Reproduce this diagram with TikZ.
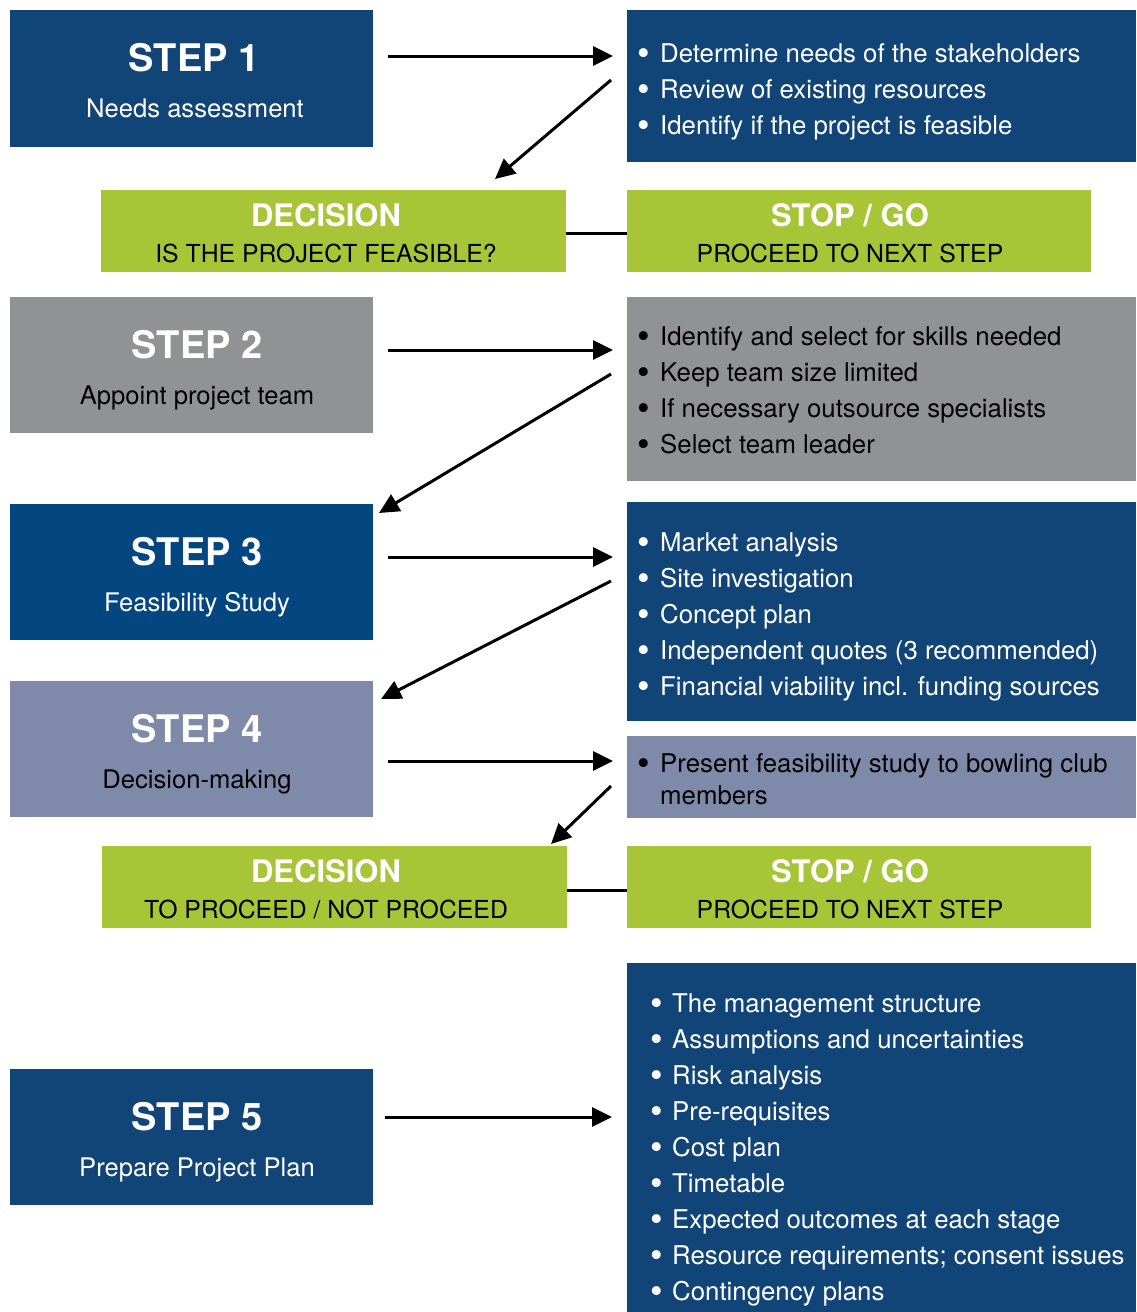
\documentclass[tikz,border=0pt]{standalone}
\usepackage{fontspec}
\setmainfont{TeX Gyre Heros}
\usetikzlibrary{arrows.meta}
\definecolor{navy}{HTML}{124577}
\definecolor{navyb}{HTML}{04467F}
\definecolor{grayb}{HTML}{919294}
\definecolor{lav}{HTML}{7F89A9}
\definecolor{lime}{HTML}{A8C437}
\newcommand{\bul}[1]{\llap{{\fontsize{36}{36}\selectfont\raisebox{-3.5pt}{\textbullet}}\hspace{#1pt}}}
\begin{document}
\begin{tikzpicture}[x=1pt,y=-1pt,
  box/.style={anchor=north west, inner sep=0pt, outer sep=0pt, draw=none},
  txt/.style={anchor=base, inner sep=0pt},
  steptitle/.style={txt, text=white, font=\fontsize{38}{40}\selectfont\bfseries},
  stepsub/.style={txt, font=\fontsize{25.6}{30}\selectfont},
  dectitle/.style={txt, text=white, font=\fontsize{31}{34}\selectfont\bfseries},
  decsub/.style={txt, text=black, font=\fontsize{24.8}{28}\selectfont},
  item/.style={anchor=base west, inner sep=0pt, font=\fontsize{25.8}{30}\selectfont},
  arr/.style={line width=3pt, -{Triangle[length=20pt,width=19pt]}},
  link/.style={line width=3pt}]
\useasboundingbox (0,0) rectangle (1136,1312);

% ---------- boxes ----------
\node[box, fill=navy,  minimum width=363, minimum height=137] (s1) at (10,10) {};
\node[box, fill=navy,  minimum width=509, minimum height=152] (r1) at (627,10) {};
\node[box, fill=lime,  minimum width=465, minimum height=82]  (d1) at (101,190) {};
\node[box, fill=lime,  minimum width=464, minimum height=82]  (g1) at (627,190) {};
\node[box, fill=grayb, minimum width=363, minimum height=136] (s2) at (10,297) {};
\node[box, fill=grayb, minimum width=509, minimum height=184] (r2) at (627,297) {};
\node[box, fill=navyb, minimum width=363, minimum height=136] (s3) at (10,504) {};
\node[box, fill=navy,  minimum width=509, minimum height=219] (r3) at (627,502) {};
\node[box, fill=lav,   minimum width=363, minimum height=136] (s4) at (10,681) {};
\node[box, fill=lav,   minimum width=509, minimum height=82]  (r4) at (627,736) {};
\node[box, fill=lime,  minimum width=465, minimum height=82]  (d2) at (102,846) {};
\node[box, fill=lime,  minimum width=464, minimum height=82]  (g2) at (627,846) {};
\node[box, fill=navy,  minimum width=363, minimum height=136] (s5) at (10,1069) {};
\node[box, fill=navy,  minimum width=509, minimum height=349] (r5) at (627,963) {};

% ---------- step texts ----------
\node[steptitle] (t1) at (194,71) {STEP 1};
\node[stepsub, text=white] (u1) at (195,117) {Needs assessment};
\node[steptitle] (t2) at (197,358) {STEP 2};
\node[stepsub, text=black] (u2) at (197,404) {Appoint project team};
\node[steptitle] (t3) at (197,565) {STEP 3};
\node[stepsub, text=white] (u3) at (197,611) {Feasibility Study};
\node[steptitle] (t4) at (197,742) {STEP 4};
\node[stepsub, text=black] (u4) at (197,788) {Decision-making};
\node[steptitle] (t5) at (197,1130) {STEP 5};
\node[stepsub, text=white] (u5) at (197,1176) {Prepare Project Plan};

% ---------- decisions ----------
\node[dectitle] (dt1) at (326,226) {DECISION};
\node[decsub] (du1) at (326,262) {IS THE PROJECT FEASIBLE?};
\node[dectitle] (gt1) at (850,226) {STOP / GO};
\node[decsub] (gu1) at (850,262) {PROCEED TO NEXT STEP};
\node[dectitle] (dt2) at (326,882) {DECISION};
\node[decsub] (du2) at (326,918) {TO PROCEED / NOT PROCEED};
\node[dectitle] (gt2) at (850,882) {STOP / GO};
\node[decsub] (gu2) at (850,918) {PROCEED TO NEXT STEP};

% ---------- lists ----------
\foreach \t [count=\i] in {Determine needs of the stakeholders,
  Review of existing resources, Identify if the project is feasible}
  \node[item, text=white] (a\i) at (660,{62+36*(\i-1)}) {\bul{10}\t};
\foreach \t [count=\i] in {Identify and select for skills needed,
  Keep team size limited, If necessary outsource specialists, Select team leader}
  \node[item, text=black] (b\i) at (660,{345+36*(\i-1)}) {\bul{10}\t};
\foreach \t [count=\i] in {Market analysis, Site investigation, Concept plan,
  Independent quotes (3 recommended), Financial viability incl. funding sources}
  \node[item, text=white] (c\i) at (660,{551+36*(\i-1)}) {\bul{10}\t};
\node[item, text=black] (e1) at (660,772) {\bul{10}Present feasibility study to bowling club};
\node[item, text=black] (e2) at (660,804) {members};
\foreach \t [count=\i] in {The management structure, Assumptions and uncertainties,
  Risk analysis, Pre-requisites, Cost plan, Timetable,
  Expected outcomes at each stage, Resource requirements; consent issues,
  Contingency plans}
  \node[item, text=white] (f\i) at (672,{1012+36*(\i-1)}) {\bul{9}\t};

% ---------- connector end points ----------
\coordinate (h1a) at (388,56);   \coordinate (h1b) at (613,56);
\coordinate (k1a) at (611,80);   \coordinate (k1b) at (495,179);
\coordinate (h2a) at (388,350);  \coordinate (h2b) at (613,350);
\coordinate (k2a) at (611,374);  \coordinate (k2b) at (379,513);
\coordinate (h3a) at (388,557);  \coordinate (h3b) at (613,557);
\coordinate (k3a) at (611,581);  \coordinate (k3b) at (381,699);
\coordinate (h4a) at (388,761);  \coordinate (h4b) at (613,761);
\coordinate (k4a) at (611,786);  \coordinate (k4b) at (551,844);
\coordinate (h5a) at (385,1117); \coordinate (h5b) at (612,1117);

\draw[arr] (h1a) -- (h1b);
\draw[arr] (k1a) -- (k1b);
\draw[arr] (h2a) -- (h2b);
\draw[arr] (k2a) -- (k2b);
\draw[arr] (h3a) -- (h3b);
\draw[arr] (k3a) -- (k3b);
\draw[arr] (h4a) -- (h4b);
\draw[arr] (k4a) -- (k4b);
\draw[arr] (h5a) -- (h5b);
\draw[link] (d1.east |- 0,233) -- (g1.west |- 0,233);
\draw[link] (d2.east |- 0,890) -- (g2.west |- 0,890);
\end{tikzpicture}
\end{document}
